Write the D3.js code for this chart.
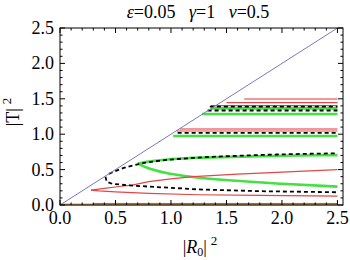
<!DOCTYPE html>
<html>
<head>
<meta charset="utf-8">
<script src="https://cdn.jsdelivr.net/npm/d3@7"></script>
<style>
  body { margin: 0; background: #fff; }
</style>
</head>
<body>
<div id="chart"></div>
<script>
// curves, [|R0|^2, |T|^2]
var diagonal = [[0, 0], [2.5, 2.5]];
var greenUpper = [[0.70, 0.585], [0.8, 0.615], [0.95, 0.64], [1.2, 0.665], [1.55, 0.68], [2.0, 0.695], [2.5, 0.705]];
var greenLower = [[0.70, 0.585], [0.78, 0.53], [0.95, 0.455], [1.2, 0.395], [1.55, 0.345], [2.0, 0.30], [2.5, 0.26]];
var dashedUpper = [[0.44, 0.44], [0.55, 0.51], [0.7, 0.575], [0.9, 0.625], [1.2, 0.665], [1.6, 0.695], [2.0, 0.715], [2.5, 0.73]];
var dashedLower = [[0.41, 0.40], [0.42, 0.33], [0.47, 0.30], [0.6, 0.28], [0.8, 0.26], [1.25, 0.22], [1.8, 0.195], [2.5, 0.18]];
var redUpper = [[0.28, 0.21], [0.4, 0.235], [0.55, 0.265], [0.65, 0.28], [0.8, 0.33], [1.0, 0.37], [1.2, 0.40], [1.6, 0.435], [2.0, 0.465], [2.5, 0.50]];
var redLower = [[0.28, 0.21], [0.35, 0.20], [0.5, 0.185], [0.8, 0.165], [1.25, 0.145], [1.8, 0.135], [2.5, 0.125]];
var redBottom = [[0.3, 0.022], [2.5, 0.022]];
var orangeBottom = [[0.0, 0.008], [2.5, 0.008]];

// flat branches: level, start
var pinkLevels = [1.497, 1.075];
var pinkStarts = [1.66, 1.08];
var redLevels = [1.445, 1.405, 1.045];
var redStarts = [1.50, 1.36, 1.05];
var dashLevels = [1.39, 1.335, 1.02];
var dashStarts = [1.35, 1.33, 1.06];
var greenLevels = [1.365, 1.285, 0.975];
var greenStarts = [1.36, 1.28, 1.02];

var xTicks = [0, 0.5, 1, 1.5, 2, 2.5];
var yTicks = [0, 0.5, 1, 1.5, 2, 2.5];

var width = 350, height = 260;
var pLeft = 60, pRight = 343, pTop = 28, pBottom = 205;
var serif = "Liberation Serif";

var svg = d3.select("#chart").append("svg")
    .attr("width", width)
    .attr("height", height);

var x = d3.scaleLinear().domain([0, 2.55]).range([pLeft, pRight]);
var y = d3.scaleLinear().domain([0, 2.5]).range([pBottom, pTop]);

var line = d3.line()
    .x(d => x(d[0]))
    .y(d => y(d[1]))
    .curve(d3.curveMonotoneX);

var straight = d3.line()
    .x(d => x(d[0]))
    .y(d => y(d[1]));

function flat(levels, starts) {
    return levels.map((v, i) => [[starts[i], v], [2.5, v]]);
}

var g = svg.append("g");

function draw(pts, color, w, dash, fn) {
    g.append("path")
        .attr("d", (fn || line)(pts))
        .attr("fill", "none")
        .attr("stroke", color)
        .attr("stroke-width", w)
        .attr("stroke-dasharray", dash || null);
}

draw(orangeBottom, "#c9a050", 2, null, straight);
draw(redBottom, "#d84848", 1, null, straight);

flat(pinkLevels, pinkStarts).forEach(p => draw(p, "#f29898", 2, null, straight));
flat(greenLevels, greenStarts).forEach(p => draw(p, "#44e044", 2.6, null, straight));
flat(redLevels, redStarts).forEach(p => draw(p, "#e04848", 1.2, null, straight));
flat(dashLevels, dashStarts).forEach(p => draw(p, "#000", 1.8, "4,3", straight));

draw(greenUpper, "#44e044", 2.6);
draw(greenLower, "#44e044", 2.6);
draw(redUpper, "#e04848", 1.2, null, straight);
draw(redLower, "#e04848", 1.2, null, straight);
draw(dashedUpper, "#000", 1.8, "4,3");
draw(dashedLower, "#000", 1.8, "4,3", straight);

draw(diagonal, "#7a7ab8", 1, null, straight);

// frame
svg.append("rect")
    .attr("x", pLeft).attr("y", pTop)
    .attr("width", pRight - pLeft).attr("height", pBottom - pTop)
    .attr("fill", "none").attr("stroke", "#000").attr("stroke-width", 1);

// ticks on all sides, pointing in
var minor = d3.range(0, 2.51, 0.1);
minor.forEach(function(v) {
    var major = Math.abs(v * 2 - Math.round(v * 2)) < 1e-6;
    var len = major ? 5 : 2.5;
    svg.append("line").attr("x1", x(v)).attr("x2", x(v)).attr("y1", pBottom).attr("y2", pBottom - len).attr("stroke", "#000");
    svg.append("line").attr("x1", x(v)).attr("x2", x(v)).attr("y1", pTop).attr("y2", pTop + len).attr("stroke", "#000");
    svg.append("line").attr("y1", y(v)).attr("y2", y(v)).attr("x1", pLeft).attr("x2", pLeft + len).attr("stroke", "#000");
    svg.append("line").attr("y1", y(v)).attr("y2", y(v)).attr("x1", pRight).attr("x2", pRight - len).attr("stroke", "#000");
});

svg.selectAll(".xt").data(xTicks).enter().append("text")
    .attr("x", d => x(d)).attr("y", 224)
    .attr("text-anchor", "middle")
    .attr("font-family", serif)
    .attr("font-size", 18)
    .text(d => d.toFixed(1));

svg.selectAll(".yt").data(yTicks).enter().append("text")
    .attr("x", 54).attr("y", d => y(d) + 6)
    .attr("text-anchor", "end")
    .attr("font-family", serif)
    .attr("font-size", 18)
    .text(d => d.toFixed(1));

// title
var title = svg.append("text")
    .attr("x", 198).attr("y", 18)
    .attr("text-anchor", "middle")
    .attr("font-family", serif)
    .attr("font-size", 18);
title.append("tspan").attr("font-style", "italic").text("ε");
title.append("tspan").text("=0.05\u00a0\u00a0\u00a0");
title.append("tspan").attr("font-style", "italic").text("γ");
title.append("tspan").text("=1\u00a0\u00a0\u00a0");
title.append("tspan").attr("font-style", "italic").text("ν");
title.append("tspan").text("=0.5");

// axis labels
var xl = svg.append("text")
    .attr("x", 200).attr("y", 253)
    .attr("text-anchor", "middle")
    .attr("font-family", serif)
    .attr("font-size", 18);
xl.append("tspan").text("|");
xl.append("tspan").attr("font-style", "italic").text("R");
xl.append("tspan").attr("dy", 3).attr("font-size", 12).text("0");
xl.append("tspan").attr("dy", -3).text("|");
xl.append("tspan").attr("dx", 4).attr("dy", -8).attr("font-size", 13).text("2");

var yl = svg.append("text")
    .attr("transform", "translate(19,112) rotate(-90)")
    .attr("text-anchor", "middle")
    .attr("font-family", serif)
    .attr("font-size", 18);
yl.append("tspan").text("|T|");
yl.append("tspan").attr("dx", 4).attr("dy", -8).attr("font-size", 13).text("2");
</script>
</body>
</html>
